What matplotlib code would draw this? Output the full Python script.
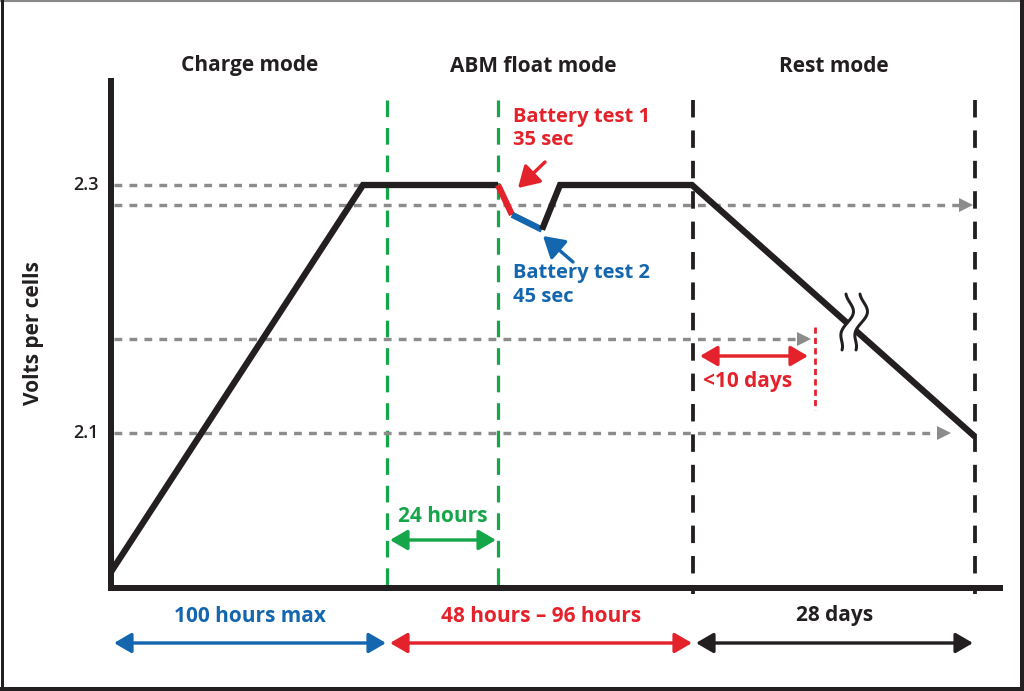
import numpy as np
import matplotlib
matplotlib.use("Agg")
import matplotlib.pyplot as plt
from matplotlib.lines import Line2D

# ---------------- data ----------------
# schematic time axis (arbitrary units across the diagram) and voltage per cell
profile_t = [111, 363, 498]
profile_v = [1.988, 2.300, 2.300]
test1_t = [498, 512]
test1_v = [2.300, 2.276]
test2_t = [512, 542]
test2_v = [2.276, 2.264]
recover_t = [542, 560, 692, 975]
recover_v = [2.264, 2.300, 2.300, 2.097]

ref_levels = [2.300, 2.284, 2.176, 2.100]        # gray dashed reference levels
ref_ends = [None, 972, 810, 950]                 # arrow end (None = plain line)
ytick_vals = [2.3, 2.1]
ytick_labels = ["2.3", "2.1"]

green_bounds = [387, 498]
black_bounds = [693, 975]
mode_names = ["Charge mode", "ABM float mode", "Rest mode"]
mode_centers = [250, 533, 834]
span_labels = ["100 hours max", "48 hours \u2013 96 hours", "28 days"]
span_ranges = [(114, 386), (390, 692), (696, 973)]
rest_limit_t = 815

RED = "#E4222B"
BLUE = "#1466AE"
GREEN = "#16A64A"
BLACK = "#231F20"
GRAY = "#8C8C8C"

plt.rcParams['font.family'] = ['Open Sans', 'DejaVu Sans']

W, H = 1024, 691
fig = plt.figure(figsize=(W / 100, H / 100), dpi=100)
ax = fig.add_axes([0, 0, 1, 1])

def V(py):
    """pixel row -> volts (layout helper)"""
    return 2.3 - (py - 185) * 0.2 / 248.0

ax.set_xlim(0, W)
ax.set_ylim(V(H), V(0))
ax.axis('off')

PX = 0.72  # points per pixel

# gray reference lines
glw = 3.4 * PX
for lvl, end in zip(ref_levels, ref_ends):
    x_end = end if end is not None else 363
    ax.plot([114, x_end - (10 if end else 0)], [lvl, lvl], color=GRAY, lw=glw,
            dashes=(2.3, 2.1), solid_capstyle='butt', dash_capstyle='butt', zorder=2)
    if end is not None:
        ax.plot([x_end - 6], [lvl], marker='>', color=GRAY, markersize=10.5, markeredgewidth=0, zorder=2)

# vertical mode boundaries
for xb in green_bounds:
    ax.plot([xb, xb], [V(100), V(588)], color=GREEN, lw=3.2 * PX, dashes=(5.2, 3.4), zorder=1)
for xb in black_bounds:
    ax.plot([xb, xb], [V(100), V(594)], color=BLACK, lw=3.8 * PX, dashes=(4.6, 3.4), zorder=1)

# axes lines
ax.plot([111, 111], [V(78), V(590)], color=BLACK, lw=6 * PX, solid_capstyle='butt', zorder=5)
ax.plot([108, 1003], [V(588), V(588)], color=BLACK, lw=6 * PX, solid_capstyle='butt', zorder=5)

# voltage profile
lw_main = 6.3 * PX
ax.plot(profile_t, profile_v, color=BLACK, lw=lw_main, solid_joinstyle='miter', solid_capstyle='butt', zorder=4)
ax.plot(test1_t, test1_v, color=RED, lw=lw_main, solid_capstyle='butt', zorder=4)
ax.plot(test2_t, test2_v, color=BLUE, lw=lw_main, solid_capstyle='butt', zorder=4)
ax.plot(recover_t, recover_v, color=BLACK, lw=lw_main, solid_joinstyle='miter', solid_capstyle='butt', zorder=4)

# break symbol on rest slope
cx, cy = 851, 322
tt = np.linspace(-1, 1, 80)
def curve(off):
    xs = cx + off - 7 * np.sin(np.pi * tt) * np.cos(np.pi * tt / 2) + 4 * np.cos(np.pi * tt / 2) - 2 * tt
    ys = cy + 28 * tt
    return xs, ys
for off in (-7, 7):
    xs, ys = curve(off)
    ax.plot(xs, [V(y) for y in ys], color=BLACK, lw=3.0 * PX, zorder=7, solid_capstyle='round')
x1, y1 = curve(-6)
x2, y2 = curve(6)
gx = np.concatenate([x1, x2[::-1]])
gy = np.concatenate([y1, y2[::-1]])
ax.fill(gx, [V(y) for y in gy], color='white', zorder=6, lw=0)

# rest limit
ax.plot([rest_limit_t, rest_limit_t], [V(327), V(410)], color=RED, lw=2.8 * PX, dashes=(2.2, 1.5), zorder=3)

# arrows
def dbl_arrow(x0, x1, y, color, lw=3.4):
    ax.annotate('', xy=(x1, y), xytext=(x0, y),
                arrowprops=dict(arrowstyle='<|-|>,head_length=0.55,head_width=0.32',
                                color=color, lw=lw * PX, shrinkA=0, shrinkB=0,
                                mutation_scale=19), zorder=5)

dbl_arrow(390, 496, V(540), GREEN)
dbl_arrow(700, 808, V(356), RED)
span_colors = [BLUE, RED, BLACK]
for (a, b), c in zip(span_ranges, span_colors):
    dbl_arrow(a, b, V(643), c)

for (x0, y0, x1, y1, c) in [(545, 162, 518, 188, RED), (573, 262, 543, 236, BLUE)]:
    ax.annotate('', xy=(x1, V(y1)), xytext=(x0, V(y0)),
                arrowprops=dict(arrowstyle='-|>,head_length=0.7,head_width=0.42',
                                color=c, lw=3.4 * PX, shrinkA=0, shrinkB=0,
                                mutation_scale=18), zorder=5)

# texts
FS = 15
for name, xc in zip(mode_names, mode_centers):
    ax.text(xc, V(66), name, ha='center', va='center', fontsize=FS, fontweight='bold', color=BLACK)
for lab, (a, b), c in zip(span_labels, span_ranges, span_colors):
    ax.text((a + b) / 2, V(616), lab, ha='center', va='center', fontsize=FS, fontweight='bold', color=c)

ax.text(513, V(117), "Battery test 1", ha='left', va='center', fontsize=14.5, fontweight='bold', color=RED)
ax.text(513, V(140), "35 sec", ha='left', va='center', fontsize=14.5, fontweight='bold', color=RED)
ax.text(513, V(273), "Battery test 2", ha='left', va='center', fontsize=14.5, fontweight='bold', color=BLUE)
ax.text(513, V(297), "45 sec", ha='left', va='center', fontsize=14.5, fontweight='bold', color=BLUE)
ax.text(443, V(516), "24 hours", ha='center', va='center', fontsize=FS, fontweight='bold', color=GREEN)
ax.text(748, V(382), "<10 days", ha='center', va='center', fontsize=FS, fontweight='bold', color=RED)

ax.text(34, V(333), "Volts per cells", rotation=90, ha='center', va='center', fontsize=FS,
        fontweight='bold', color=BLACK)
for v, lab in zip(ytick_vals, ytick_labels):
    ax.text(99, v, lab, ha='right', va='center', fontsize=13, fontweight='semibold', color=BLACK)

# outer frame
fig.add_artist(Line2D([0, 1], [1 - 0.5 / H, 1 - 0.5 / H], color='#888888', lw=1.5, transform=fig.transFigure))
fig.add_artist(Line2D([1.5 / W, 1.5 / W], [0, 1], color=BLACK, lw=3 * PX, transform=fig.transFigure))
fig.add_artist(Line2D([1 - 2 / W, 1 - 2 / W], [0, 1], color=BLACK, lw=4 * PX, transform=fig.transFigure))
fig.add_artist(Line2D([0, 1], [2.5 / H, 2.5 / H], color=BLACK, lw=5 * PX, transform=fig.transFigure))

fig.savefig("out.png", dpi=100)
